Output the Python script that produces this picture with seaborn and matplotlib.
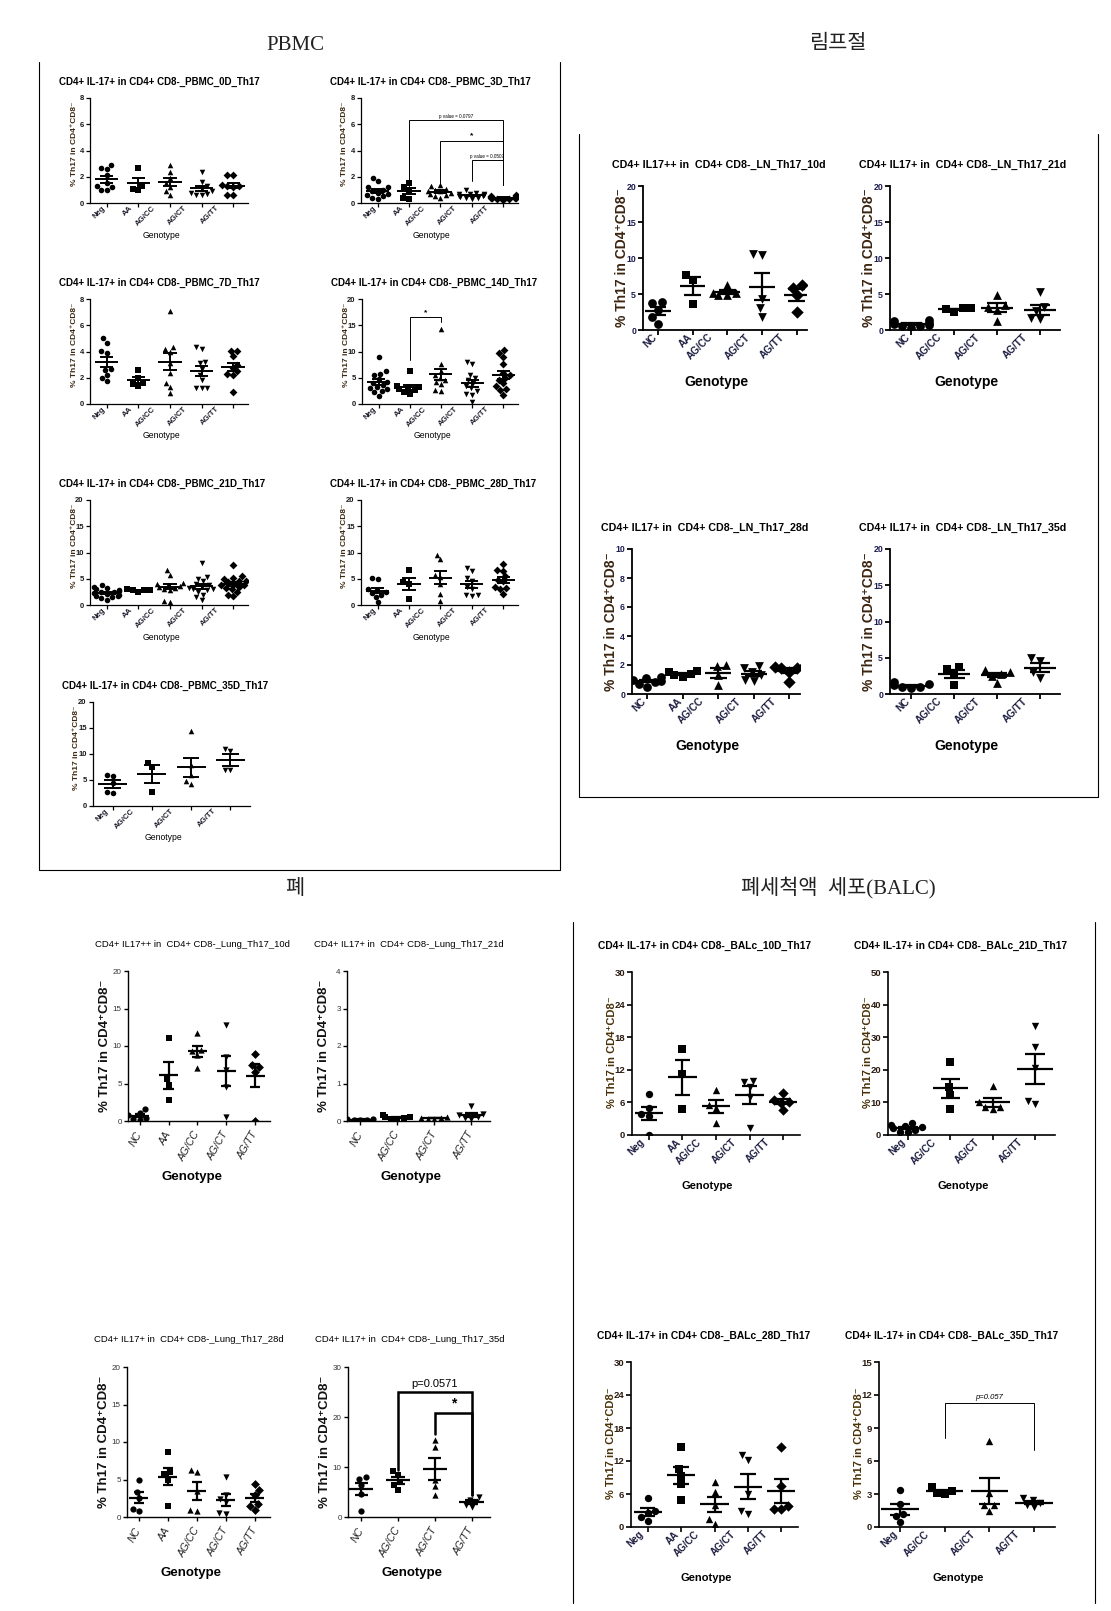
import warnings
warnings.filterwarnings("ignore")
import numpy as np
import pandas as pd
import matplotlib
matplotlib.use("Agg")
import matplotlib.pyplot as plt
from matplotlib.lines import Line2D
from matplotlib.transforms import offset_copy
from matplotlib import font_manager as fm
import seaborn as sns

sns.set_theme(style="ticks")
plt.rcParams["font.family"] = ["Liberation Sans", "DejaVu Sans"]
for k in ["axes.edgecolor", "xtick.color", "ytick.color", "text.color", "axes.labelcolor"]:
    plt.rcParams[k] = "black"

_names = {f.name for f in fm.fontManager.ttflist}
NARROW = "Liberation Sans Narrow" if "Liberation Sans Narrow" in _names else "Liberation Sans"
NS = 1.15 if NARROW != "Liberation Sans" else 1.0
SANS = ["Liberation Sans", "DejaVu Sans"]
NARROWL = [NARROW, "DejaVu Sans"]
SERIF = ["Liberation Serif", "Noto Sans CJK KR"]

# ---------------- categories ----------------
CATS5_NEG = ["Neg", "AA", "AG/CC", "AG/CT", "AG/TT"]
CATS4_NEG = ["Neg", "AG/CC", "AG/CT", "AG/TT"]
CATS5_NC = ["NC", "AA", "AG/CC", "AG/CT", "AG/TT"]
CATS4_NC = ["NC", "AG/CC", "AG/CT", "AG/TT"]

# ---------------- data: PBMC ----------------
pbmc_0d = [[2.9, 2.6, 2.65, 2.1, 1.5, 1.3, 1.0, 1.0, 1.2],
           [2.7, 1.35, 1.05, 1.0],
           [2.9, 2.4, 1.9, 1.5, 0.9, 0.6, 1.2],
           [2.4, 1.6, 1.3, 1.1, 0.9, 0.8, 0.7, 0.6, 0.6],
           [2.1, 2.1, 1.4, 1.3, 1.3, 1.25, 0.6, 0.6]]
pbmc_3d = [[1.9, 1.65, 1.2, 1.2, 1.0, 0.8, 0.7, 0.5, 0.4, 0.3, 0.9, 0.6],
           [1.5, 1.2, 1.0, 0.4, 0.3],
           [1.4, 1.3, 1.1, 1.0, 0.9, 0.8, 0.7, 0.6, 0.5, 0.4, 0.9],
           [1.0, 0.8, 0.7, 0.65, 0.6, 0.55, 0.5, 0.45, 0.4, 0.35, 0.3, 0.7],
           [0.6, 0.5, 0.45, 0.4, 0.4, 0.35, 0.3, 0.3, 0.25, 0.5, 0.45, 0.35]]
pbmc_7d = [[5.0, 4.65, 4.05, 3.9, 2.7, 2.6, 2.2, 2.0, 1.75],
           [2.6, 2.0, 1.6, 1.4, 1.5],
           [7.05, 4.35, 4.2, 4.0, 3.1, 2.4, 1.6, 1.3, 0.85],
           [4.35, 4.2, 3.2, 3.1, 2.7, 2.2, 1.8, 1.2, 1.2, 1.2],
           [4.05, 4.05, 3.65, 3.0, 2.75, 2.3, 2.2, 2.5, 0.95]]
pbmc_14d = [[9.0, 6.2, 5.8, 5.5, 4.8, 4.2, 4.0, 3.6, 3.0, 3.2, 2.5, 2.2, 1.6, 2.8],
            [6.3, 3.5, 3.2, 2.8, 2.6, 2.0, 2.2, 3.0],
            [14.2, 7.7, 6.3, 5.5, 5.0, 4.2, 3.8, 2.6, 2.5, 4.5],
            [8.0, 7.7, 5.5, 5.0, 4.5, 4.0, 3.5, 3.0, 2.5, 2.0, 1.8, 0.3],
            [10.2, 9.7, 9.0, 7.6, 6.0, 5.5, 5.0, 4.6, 4.0, 3.4, 2.8, 2.7, 1.8]]
pbmc_21d = [[3.8, 3.5, 3.2, 3.0, 2.8, 2.6, 2.4, 2.2, 2.0, 1.8, 1.5, 1.3, 1.0, 2.5, 2.1, 1.7],
            [3.0, 2.9, 2.8, 2.5, 2.9],
            [6.7, 5.8, 4.0, 3.7, 3.5, 3.3, 3.0, 2.8, 0.8, 0.6, 4.2, 3.8],
            [8.0, 5.4, 5.0, 4.5, 4.0, 3.5, 3.2, 3.0, 2.8, 2.5, 2.0, 1.5, 1.0, 3.8, 3.0],
            [7.6, 5.5, 5.2, 5.0, 4.6, 4.3, 4.0, 3.8, 3.5, 3.3, 3.0, 2.5, 2.0, 1.7, 4.5, 3.9]]
pbmc_28d = [[5.2, 4.9, 3.0, 2.8, 2.5, 2.3, 2.0, 1.5, 0.5],
            [6.6, 4.3, 4.0, 1.1],
            [9.6, 8.7, 5.4, 4.0, 2.1, 0.7, 5.8],
            [7.0, 6.5, 5.2, 4.5, 3.5, 3.0, 2.0, 2.0, 1.8],
            [7.8, 6.6, 6.5, 5.5, 4.8, 4.5, 3.5, 3.0, 2.1, 3.2]]
pbmc_35d = [[6.0, 5.7, 4.5, 2.6, 2.5],
            [8.3, 7.5, 2.6],
            [14.4, 7.8, 4.8, 4.3, 6.0],
            [10.9, 10.5, 7.0, 6.9]]

# ---------------- data: lymph node ----------------
ln_10d = [[3.9, 3.7, 2.8, 1.8, 0.9],
          [7.7, 6.9, 3.6],
          [6.3, 5.2, 4.9, 4.9, 5.2],
          [10.5, 10.4, 4.3, 3.0, 1.8],
          [6.2, 5.9, 4.8, 2.5]]
ln_21d = [[1.4, 1.2, 1.0, 0.8, 0.5, 0.3, 0.6, 0.7],
          [3.0, 2.9, 2.5, 3.0],
          [4.8, 3.5, 3.2, 2.8, 1.3],
          [5.3, 3.2, 2.6, 1.5, 1.6]]
ln_28d = [[1.2, 1.1, 1.0, 0.9, 0.8, 0.5, 0.7],
          [1.6, 1.5, 1.4, 1.3, 1.2],
          [2.0, 1.9, 1.3, 0.6],
          [1.9, 1.8, 1.5, 1.3, 1.0, 0.9],
          [1.9, 1.85, 1.8, 1.8, 1.5, 0.8]]
ln_35d = [[1.7, 1.4, 1.2, 1.0, 0.8, 0.9],
          [3.7, 3.5, 2.7, 1.3],
          [3.3, 3.1, 2.7, 2.5, 1.5],
          [4.9, 4.5, 3.0, 2.2]]

# ---------------- data: lung ----------------
lung_10d = [[1.6, 1.1, 0.8, 0.4, 0.1, 0.3],
            [11.1, 5.6, 4.8, 2.8],
            [11.7, 9.5, 8.8, 7.1, 9.3],
            [12.8, 8.5, 6.8, 4.5, 0.6],
            [9.0, 7.5, 7.2, 6.5, 0.0]]
lung_21d = [[0.05, 0.03, 0.06, 0.02, 0.04],
            [0.15, 0.1, 0.08, 0.05, 0.04, 0.12],
            [0.1, 0.08, 0.06, 0.05, 0.09],
            [0.4, 0.2, 0.15, 0.1, 0.05, 0.08]]
lung_28d = [[4.9, 3.4, 2.6, 1.1, 0.8],
            [8.7, 6.0, 5.7, 1.5, 5.0],
            [6.3, 6.0, 3.5, 0.8, 0.9],
            [5.3, 3.0, 2.0, 0.5, 0.4, 2.4],
            [4.4, 3.6, 3.0, 1.7, 1.0, 1.5]]
lung_35d = [[8.0, 7.7, 6.5, 4.6, 1.3],
            [9.2, 8.5, 6.5, 5.5, 7.0],
            [15.5, 14.0, 7.5, 6.2, 4.5],
            [4.0, 3.5, 3.0, 2.5, 2.0]]

# ---------------- data: BALC ----------------
balc_10d = [[7.5, 5.0, 3.8, 3.5, 0.0],
            [15.8, 11.2, 4.8],
            [8.3, 5.6, 5.0, 2.2],
            [10.0, 9.8, 8.8, 7.0, 1.2],
            [7.7, 6.5, 6.0, 5.9, 4.6]]
balc_21d = [[3.8, 3.2, 2.9, 2.5, 2.0, 1.5, 1.0, 0.8],
            [22.3, 14.6, 12.4, 8.0],
            [14.9, 10.0, 8.5, 8.0, 8.5],
            [33.3, 27.0, 20.6, 10.5, 9.5]]
balc_28d = [[5.2, 3.0, 2.5, 1.8, 1.1],
            [14.6, 10.5, 9.2, 7.8, 4.9],
            [8.1, 6.4, 4.0, 1.5, 0.5],
            [13.1, 12.2, 6.0, 2.9, 2.4],
            [14.6, 7.4, 3.8, 3.3, 3.3]]
balc_35d = [[3.35, 2.1, 1.2, 1.0, 0.45],
            [3.6, 3.3, 3.0, 3.1],
            [7.8, 3.1, 2.0, 1.5, 2.0],
            [2.6, 2.5, 2.2, 1.8, 2.0]]

# significance brackets: (left group, right group, top, left leg end, right leg end, label)
brk_pbmc_3d = [(1, 4, 6.3, 1.2, 1.4, "p value = 0.0797"),
               (2, 4, 4.75, 1.5, 1.4, "*"),
               (3, 4, 3.25, 1.7, 1.4, "p value = 0.0507")]
brk_pbmc_14d = [(1, 2, 16.6, 8.3, 15.7, "*")]
brk_lung_35d = [(1, 3, 25.0, 9.4, 4.4, "p=0.0571"),
                (2, 3, 20.8, 16.7, 4.4, "*")]
brk_balc_35d = [(1, 3, 11.26, 8.06, 7.0, "p=0.057")]

YLABEL = "% Th17 in CD4\u207aCD8\u207b"

# ---------------- layout / styles ----------------
W, H = 1111, 1611
fig = plt.figure(figsize=(W / 100, H / 100), dpi=100)
fig.patch.set_facecolor("white")

STYLES = {
    "pbmc": dict(tfam=SANS, tfs=7.0, tw="bold", tdx=-31, tdy=16,
                 yfam=SANS, yfs=6.0, ydx=16, yyf=0.56, yw="bold", yc="#3b2810",
                 ytfam=SANS, ytfs=5.5, ytw="bold", ytc="#1a1a1a",
                 xtfs=5.6, xtw="bold", xtc="#1a1a2a", xtstyle="normal", xtfam=SANS,
                 mode="offset", rot=45, xpad=1.0,
                 gfam=SANS, gfs=6.2, gw="normal", gdy=32,
                 ms=4.0, slw=0.9, mlw=1.4, mhw=0.37, shw=0.21, tl=3.0,
                 blw=0.7, bfs=3.3, sfs=6.0, bstyle="normal", bfam=SANS, boff=1),
    "ln": dict(tfam=NARROWL, tfs=7.7 * NS, tw="bold", tdx=-31, tdy=21,
               yfam=SANS, yfs=10, ydx=21, yyf=0.5, yw="bold", yc="#3b2410",
               ytfam=SANS, ytfs=6.3, ytw="bold", ytc="#1c1c50",
               xtfs=7.2, xtw="bold", xtc="#1c1c40", xtstyle="normal", xtfam=SANS,
               mode="offset", rot=45, xpad=1.5,
               gfam=NARROWL, gfs=10, gw="bold", gdy=52,
               ms=6.3, slw=1.3, mlw=1.6, mhw=0.37, shw=0.24, tl=3.5,
               blw=0.8, bfs=5, sfs=7, bstyle="normal", bfam=SANS, boff=1),
    "lung": dict(tfam=NARROWL, tfs=6.8 * NS, tw="normal", tdx=-33, tdy=27,
                 yfam=SANS, yfs=9.5, ydx=23, yyf=0.5, yw="bold", yc="#111111",
                 ytfam=NARROWL, ytfs=5.8, ytw="normal", ytc="#333333",
                 xtfs=7.5, xtw="normal", xtc="#222222", xtstyle="italic", xtfam=NARROWL,
                 mode="aligned", rot=60, xpad=5,
                 gfam=NARROWL, gfs=9.5, gw="bold", gdy=56,
                 ms=4.5, slw=1.0, mlw=1.6, mhw=0.33, shw=0.18, tl=3.0,
                 blw=1.8, bfs=8 * NS, sfs=10, bstyle="normal", bfam=NARROWL, boff=3),
    "balc": dict(tfam=NARROWL, tfs=7.4 * NS, tw="bold", tdx=-34, tdy=26,
                 yfam=SANS, yfs=8.0, ydx=20, yyf=0.51, yw="bold", yc="#4a3208",
                 ytfam=NARROWL, ytfs=6.8, ytw="bold", ytc="#2a1a10",
                 xtfs=7.0, xtw="bold", xtc="#1c1c40", xtstyle="normal", xtfam=SANS,
                 mode="offset", rot=45, xpad=1.5,
                 gfam=NARROWL, gfs=8.0, gw="bold", gdy=51,
                 ms=5.3, slw=1.2, mlw=1.6, mhw=0.42, shw=0.23, tl=3.5,
                 blw=0.7, bfs=5.5, sfs=7, bstyle="italic", bfam=SANS, boff=2),
}

LABEL_POS = {
    ("pbmc", 5): [-0.17, 0.72, 1.42, 2.42, 3.44],
    ("pbmc", 4): [-0.2, 0.47, 1.47, 2.55],
    ("ln", 5): [-0.19, 0.84, 1.44, 2.5, 3.5],
    ("ln", 4): [-0.16, 0.59, 1.48, 2.6],
    ("balc", 5): [-0.27, 0.8, 1.4, 2.47, 3.46],
    ("balc", 4): [-0.18, 0.55, 1.57, 2.58],
}
XLIM = {
    ("pbmc", 5): (-0.53, 4.47), ("pbmc", 4): (-0.5, 3.5),
    ("ln", 5): (-0.43, 4.3), ("ln", 4): (-0.5, 3.47),
    ("lung", 5): (-0.41, 4.52), ("lung", 4): (-0.36, 3.5),
    ("balc", 5): (-0.5, 4.5), ("balc", 4): (-0.47, 3.47),
}
MARKERS5 = ["o", "s", "^", "v", "D"]
MARKERS4 = ["o", "s", "^", "v"]

Y8 = [0, 2, 4, 6, 8]
Y20 = [0, 5, 10, 15, 20]

PANELS = [
    dict(style="pbmc", title="CD4+ IL-17+ in CD4+ CD8-_PBMC_0D_Th17", cats=CATS5_NEG, data=pbmc_0d,
         rect=(90, 98, 248, 203), yticks=Y8),
    dict(style="pbmc", title="CD4+ IL-17+ in CD4+ CD8-_PBMC_3D_Th17", cats=CATS5_NEG, data=pbmc_3d,
         rect=(361, 98, 518, 203), yticks=Y8, brackets=brk_pbmc_3d),
    dict(style="pbmc", title="CD4+ IL-17+ in CD4+ CD8-_PBMC_7D_Th17", cats=CATS5_NEG, data=pbmc_7d,
         rect=(90, 299, 248, 404), yticks=Y8),
    dict(style="pbmc", title="CD4+ IL-17+ in CD4+ CD8-_PBMC_14D_Th17", cats=CATS5_NEG, data=pbmc_14d,
         rect=(362, 299, 518, 404), yticks=Y20, brackets=brk_pbmc_14d),
    dict(style="pbmc", title="CD4+ IL-17+ in CD4+ CD8-_PBMC_21D_Th17", cats=CATS5_NEG, data=pbmc_21d,
         rect=(90, 500, 248, 605), yticks=Y20),
    dict(style="pbmc", title="CD4+ IL-17+ in CD4+ CD8-_PBMC_28D_Th17", cats=CATS5_NEG, data=pbmc_28d,
         rect=(361, 500, 518, 605), yticks=Y20),
    dict(style="pbmc", title="CD4+ IL-17+ in CD4+ CD8-_PBMC_35D_Th17", cats=CATS4_NEG, data=pbmc_35d,
         rect=(93, 702, 250, 806), yticks=Y20),
    dict(style="ln", title="CD4+ IL17++ in  CD4+ CD8-_LN_Th17_10d", cats=CATS5_NC, data=ln_10d,
         rect=(643, 186, 807, 330), yticks=Y20),
    dict(style="ln", title="CD4+ IL17+ in  CD4+ CD8-_LN_Th17_21d", cats=CATS4_NC, data=ln_21d,
         rect=(890, 186, 1060, 330), yticks=Y20),
    dict(style="ln", title="CD4+ IL17+ in  CD4+ CD8-_LN_Th17_28d", cats=CATS5_NC, data=ln_28d,
         rect=(632, 549, 800, 694), yticks=[0, 2, 4, 6, 8, 10]),
    dict(style="ln", title="CD4+ IL17+ in  CD4+ CD8-_LN_Th17_35d", cats=CATS4_NC, data=ln_35d,
         rect=(890, 549, 1060, 694), yticks=Y20),
    dict(style="lung", title="CD4+ IL17++ in  CD4+ CD8-_Lung_Th17_10d", cats=CATS5_NC, data=lung_10d,
         rect=(128, 971, 270, 1121), yticks=Y20),
    dict(style="lung", title="CD4+ IL17+ in  CD4+ CD8-_Lung_Th17_21d", cats=CATS4_NC, data=lung_21d,
         rect=(347, 971, 490, 1121), yticks=[0, 1, 2, 3, 4]),
    dict(style="lung", title="CD4+ IL17+ in  CD4+ CD8-_Lung_Th17_28d", cats=CATS5_NC, data=lung_28d,
         rect=(127, 1367, 270, 1517), yticks=Y20),
    dict(style="lung", title="CD4+ IL17+ in  CD4+ CD8-_Lung_Th17_35d", cats=CATS4_NC, data=lung_35d,
         rect=(348, 1367, 490, 1517), yticks=[0, 10, 20, 30], brackets=brk_lung_35d),
    dict(style="balc", title="CD4+ IL-17+ in CD4+ CD8-_BALc_10D_Th17", cats=CATS5_NEG, data=balc_10d,
         rect=(632, 972, 800, 1135), yticks=[0, 6, 12, 18, 24, 30]),
    dict(style="balc", title="CD4+ IL-17+ in CD4+ CD8-_BALc_21D_Th17", cats=CATS4_NEG, data=balc_21d,
         rect=(888, 972, 1055, 1135), yticks=[0, 10, 20, 30, 40, 50]),
    dict(style="balc", title="CD4+ IL-17+ in CD4+ CD8-_BALc_28D_Th17", cats=CATS5_NEG, data=balc_28d,
         rect=(631, 1362, 798, 1527), yticks=[0, 6, 12, 18, 24, 30]),
    dict(style="balc", title="CD4+ IL-17+ in CD4+ CD8-_BALc_35D_Th17", cats=CATS4_NEG, data=balc_35d,
         rect=(879, 1362, 1055, 1527), yticks=[0, 3, 6, 9, 12, 15], brackets=brk_balc_35d),
]


def draw_panel(p):
    st = STYLES[p["style"]]
    x0, y0, x1, y1 = p["rect"]
    ax = fig.add_axes([x0 / W, 1 - y1 / H, (x1 - x0) / W, (y1 - y0) / H])
    ax.set_facecolor("white")
    cats, data = p["cats"], p["data"]
    n = len(cats)
    markers = MARKERS5 if n == 5 else MARKERS4
    df = pd.DataFrame({"genotype": np.repeat(cats, [len(d) for d in data]),
                       "value": np.concatenate([np.asarray(d, float) for d in data])})
    for i, c in enumerate(cats):
        sns.swarmplot(data=df[df["genotype"] == c], x="genotype", y="value", order=cats,
                      color="black", marker=markers[i], size=st["ms"], linewidth=0,
                      ax=ax, zorder=2)
    stats = df.groupby("genotype", sort=False)["value"].agg(["mean", "sem"]).reindex(cats)
    for i, c in enumerate(cats):
        m, se = stats.loc[c, "mean"], stats.loc[c, "sem"]
        ax.hlines(m, i - st["mhw"], i + st["mhw"], color="black", lw=st["mlw"], zorder=4)
        ax.hlines([m - se, m + se], i - st["shw"], i + st["shw"], color="black", lw=st["mlw"], zorder=4)
        ax.vlines(i, m - se, m + se, color="black", lw=st["mlw"], zorder=4)

    yt = p["yticks"]
    ax.set_xlim(*XLIM[(p["style"], n)])
    ax.set_ylim(yt[0], yt[-1])
    ax.set_xlabel("")
    ax.set_ylabel("")
    ax.set_yticks(yt)
    ax.set_yticklabels([str(v) for v in yt], fontsize=st["ytfs"], fontweight=st["ytw"],
                       color=st["ytc"], fontfamily=st["ytfam"])
    ax.set_xticks(range(n))
    if st["mode"] == "offset":
        ax.set_xticklabels([""] * n)
        ax.set_xticks(LABEL_POS[(p["style"], n)], minor=True)
        ax.set_xticklabels(cats, minor=True, rotation=st["rot"], ha="right", va="top",
                           rotation_mode="anchor", fontsize=st["xtfs"], fontweight=st["xtw"],
                           color=st["xtc"], fontfamily=st["xtfam"])
        ax.tick_params(axis="x", which="minor", length=0, pad=st["xpad"])
    else:
        ax.set_xticklabels(cats, rotation=st["rot"], ha="right", va="center",
                           rotation_mode="anchor", fontsize=st["xtfs"], fontweight=st["xtw"],
                           color=st["xtc"], fontstyle=st["xtstyle"], fontfamily=st["xtfam"])
        ax.tick_params(axis="x", which="major", pad=st["xpad"])
    ax.tick_params(axis="both", which="major", length=st["tl"], width=st["slw"], direction="out")
    ax.tick_params(axis="y", which="major", pad=1.5)
    ax.tick_params(axis="y", which="minor", length=0)
    sns.despine(ax=ax)
    for s in ("left", "bottom"):
        ax.spines[s].set_linewidth(st["slw"])
        ax.spines[s].set_color("black")

    # title
    fig.text((x0 + st["tdx"]) / W, 1 - (y0 - st["tdy"]) / H, p["title"], ha="left", va="center",
             fontsize=st["tfs"], fontweight=st["tw"], fontfamily=st["tfam"], color="black")
    # y label
    ax.text(0, st["yyf"], YLABEL, rotation=90, ha="center", va="center",
            transform=offset_copy(ax.transAxes, fig=fig, x=-st["ydx"], y=0, units="dots"),
            fontsize=st["yfs"], fontweight=st["yw"], color=st["yc"], fontfamily=st["yfam"])
    # x label
    ax.text(0.45, 0, "Genotype", ha="center", va="center",
            transform=offset_copy(ax.transAxes, fig=fig, x=0, y=-st["gdy"], units="dots"),
            fontsize=st["gfs"], fontweight=st["gw"], fontfamily=st["gfam"], color="black")

    # significance brackets
    for (xl, xr, ytop, yl, yr, lab) in p.get("brackets", []):
        ax.plot([xl, xl, xr, xr], [yl, ytop, ytop, yr], color="black", lw=st["blw"],
                clip_on=False, zorder=5, solid_joinstyle="miter")
        star = lab == "*"
        ax.text((xl + xr) / 2, ytop, lab, ha="center", va="bottom",
                transform=offset_copy(ax.transData, fig=fig, x=0, y=st["boff"], units="dots"),
                fontsize=st["sfs"] if star else st["bfs"],
                fontweight="bold" if star else "normal",
                fontstyle="normal" if star else st["bstyle"],
                fontfamily=st["bfam"], color="black")
    return ax


for p in PANELS:
    draw_panel(p)

# section headings
for x, y, s in [(295, 46, "PBMC"), (838, 45, "림프절"), (295, 889, "폐"),
                (838, 888, "폐세척액  세포(BALC)")]:
    fig.text(x / W, 1 - y / H, s, ha="center", va="center", fontsize=15, fontfamily=SERIF,
             color="#222222")


def fline(xs, ys):
    fig.add_artist(Line2D([x / W for x in xs], [1 - y / H for y in ys],
                          transform=fig.transFigure, color="black", lw=0.8))


fline([39, 39, 560, 560], [62, 870, 870, 62])
fline([579, 579, 1098, 1098], [134, 797, 797, 134])
fline([573, 573], [922, 1603])
fline([1095, 1095], [922, 1603])

fig.savefig("out.png", dpi=100, facecolor="white")
